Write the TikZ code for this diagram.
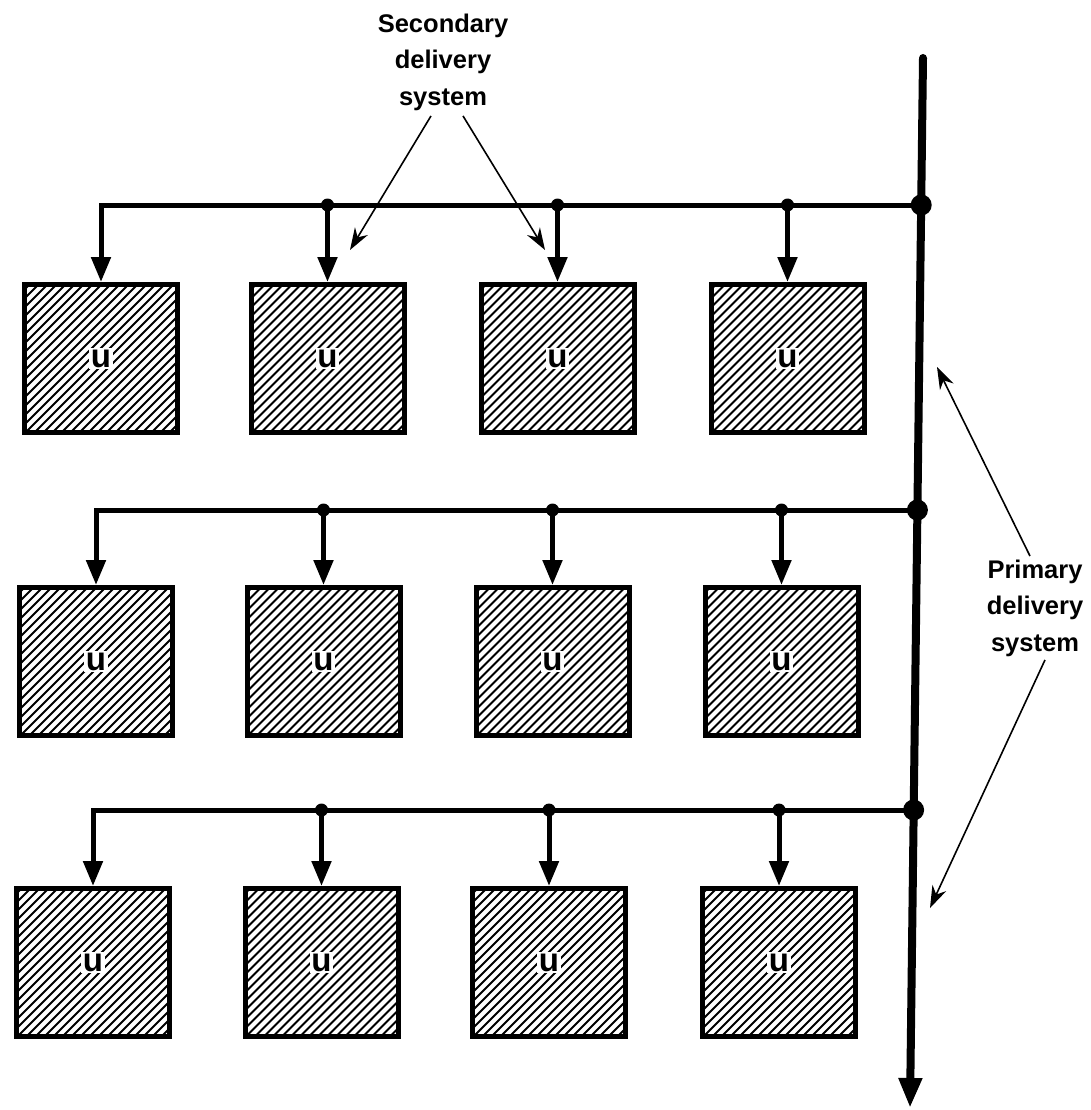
\documentclass[tikz,border=0pt]{standalone}
\usepackage{fontspec}
\setmainfont{Liberation Sans}
\usetikzlibrary{arrows.meta}
\begin{document}
\begin{tikzpicture}[x=1pt,y=-1pt,
 ubox/.style={draw,line width=5pt,minimum width=153pt,minimum height=148pt,inner sep=0pt,
   path picture={\foreach \i in {-170,-161,...,170}
     \draw[line width=2pt] ([xshift=\i pt]path picture bounding box.south west) -- ++(200,-200);}},
 utext/.style={fill=white,inner sep=1.5pt,font=\fontsize{33}{35}\selectfont\bfseries},
 feed/.style={line width=5pt,-{Triangle[length=25pt,width=19pt]}},
 sdot/.style={circle,fill=black,inner sep=0pt,minimum size=13pt},
 pdot/.style={circle,fill=black,inner sep=0pt,minimum size=21pt},
 lbl/.style={font=\fontsize{25.5}{36.5}\selectfont\bfseries,align=center},
 pointer/.style={line width=1.6pt,-{Stealth[length=22pt,width=15pt]}}
]
\useasboundingbox (0,0) rectangle (1091,1110);

% primary delivery line
\coordinate (ptop) at (923,58);
\coordinate (pbot) at (910,1108);
\draw[line width=8pt,line cap=round,-{Triangle[length=30pt,width=22pt]}] (ptop) -- (pbot);
\node[pdot] (j1) at (921.2,205) {};
\node[pdot] (j2) at (917.4,510) {};
\node[pdot] (j3) at (913.6,810) {};

% boxes
\node[ubox] (b11) at (101,358.5) {};
\node[ubox] (b12) at (327.5,358.5) {};
\node[ubox] (b13) at (557.5,358.5) {};
\node[ubox] (b14) at (787.5,358.5) {};
\node[ubox] (b21) at (96,661.5) {};
\node[ubox] (b22) at (323.5,661.5) {};
\node[ubox] (b23) at (552.5,661.5) {};
\node[ubox] (b24) at (781.5,661.5) {};
\node[ubox] (b31) at (93,962.5) {};
\node[ubox] (b32) at (321.5,962.5) {};
\node[ubox] (b33) at (549,962.5) {};
\node[ubox] (b34) at (779,962.5) {};
\foreach \r in {1,2,3}{
  \foreach \c in {1,2,3,4}{
    \node[utext] (t\r\c) at (b\r\c) {u};
  }
}

% secondary delivery lines
\foreach \r in {1,2,3}{
  \draw[feed] (j\r.center) -| (b\r1.north);
  \foreach \c in {2,3,4}{
    \node[sdot] (d\r\c) at (b\r\c.north |- j\r) {};
    \draw[feed] (d\r\c.center) -- (b\r\c.north);
  }
}

% labels
\node[lbl] (sec) at (443,62) {Secondary\\delivery\\system};
\node[lbl] (pri) at (1035,608) {Primary\\delivery\\system};

\coordinate (s1) at (350,250);
\coordinate (s2) at (545,250);
\coordinate (p1) at (937,367);
\coordinate (p2) at (930,908);
\draw[pointer] ([xshift=-12pt,yshift=-2pt]sec.south) -- (s1);
\draw[pointer] ([xshift=20pt,yshift=-2pt]sec.south) -- (s2);
\draw[pointer] ([xshift=-5pt]pri.north) -- (p1);
\draw[pointer] ([xshift=10pt]pri.south) -- (p2);
\end{tikzpicture}
\end{document}
